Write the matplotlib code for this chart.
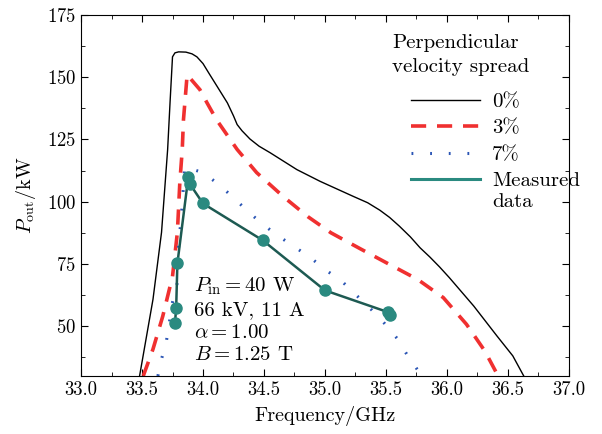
import matplotlib
matplotlib.use("Agg")
import matplotlib.pyplot as plt
from matplotlib.ticker import MultipleLocator
from matplotlib.lines import Line2D

plt.rcParams['font.family'] = ['cmr10', 'DejaVu Serif']
plt.rcParams['mathtext.fontset'] = 'cm'
plt.rcParams['axes.formatter.use_mathtext'] = True

# 0% spread (simulation)
black_f = [33.48, 33.59, 33.66, 33.71, 33.73, 33.75, 33.77, 33.80, 33.86, 33.91, 33.95, 34.0,
           34.05, 34.12, 34.2, 34.25, 34.28, 34.32, 34.385, 34.46, 34.55, 34.77, 34.96, 35.23,
           35.35, 35.45, 35.53, 35.61, 35.70, 35.78, 35.86, 35.94, 36.02, 36.22, 36.41, 36.54, 36.63]
black_p = [30, 60.8, 87.7, 120.9, 140, 158.2, 159.8, 160.2, 160.1, 159.4, 158.2, 155.5,
           151.5, 146, 139.7, 134.5, 131, 128.5, 125.2, 122.3, 119.7, 112.9, 108.2, 102.2,
           99.6, 96.6, 93.7, 90.2, 85.9, 81.5, 77.8, 73.8, 69.5, 58.1, 46.1, 38.1, 30]

# 3% spread
red_f = [33.51, 33.59, 33.67, 33.75, 33.79, 33.81, 33.83, 33.84, 33.87, 33.975, 34.03, 34.11,
         34.28, 34.44, 34.66, 34.86, 35.05, 35.29, 35.53, 35.76, 35.97, 36.16, 36.31, 36.42]
red_p = [30, 40.8, 54, 70, 87.7, 107.7, 121, 133, 151, 145, 140, 133,
         121, 111.7, 102, 94, 87.5, 81.1, 74.8, 68.8, 61.5, 50.8, 40.1, 30]

# 7% spread
blue_f = [33.63, 33.66, 33.70, 33.75, 33.79, 33.80, 33.83, 33.85, 34.0, 34.12, 34.24, 34.36,
          34.48, 34.61, 34.88, 35.0, 35.14, 35.25, 35.37, 35.48, 35.59, 35.67, 35.76, 35.78]
blue_p = [30, 36.8, 44, 59.6, 67.6, 82, 98.9, 114, 111.7, 107.3, 102.1, 96.5,
          91.3, 86.5, 77.6, 72.8, 68, 62.8, 57.2, 51.6, 45.2, 38.8, 32.4, 30]

# measured
meas_f = [33.77, 33.78, 33.79, 33.88, 33.89, 34.0, 34.49, 35.0, 35.52, 35.53]
meas_p = [51.2, 57.2, 75.2, 110.1, 107.3, 99.3, 84.5, 64.4, 55.6, 54.4]

labels = ['0%', '3%', '7%', 'Measured']

fig = plt.figure(figsize=(6.02, 4.34), dpi=100)
ax = fig.add_axes([0.1346, 0.1336, 0.8104, 0.8318])

ax.plot(black_f, black_p, color='black', lw=1.0)
ax.plot(red_f, red_p, color='#f03030', lw=2.6, ls=(0, (4.2, 3)))
ax.plot(blue_f, blue_p, color='#2a55b5', lw=2.2, ls=(0, (0.6, 5.5)))
ax.plot(meas_f, meas_p, color='#1d5a52', lw=1.8, marker='o', ms=8,
        mfc='#2a8a80', mec='#2a8a80')

ax.set_xlim(33.0, 37.0)
ax.set_ylim(30, 175)
ax.xaxis.set_major_locator(MultipleLocator(0.5))
ax.xaxis.set_minor_locator(MultipleLocator(0.25))
ax.yaxis.set_minor_locator(MultipleLocator(12.5))
ax.set_yticks([50, 75, 100, 125, 150, 175])
ax.xaxis.set_major_formatter(plt.FormatStrFormatter('%.1f'))
ax.tick_params(which='both', direction='in', top=True, right=True, labelsize=13.5)
ax.tick_params(which='major', length=5)
ax.tick_params(which='minor', length=3)

ax.set_xlabel('Frequency/GHz', fontsize=14.5, labelpad=5)
ax.set_ylabel(r'$P_{\rm out}$/kW', fontsize=14.5, labelpad=6)

ax.text(33.93, 70.5, "$P_{\\rm in} = 40$ W\n66 kV, 11 A\n$\\alpha = 1.00$\n$B = 1.25$ T",
        fontsize=15, va='top', ha='left', linespacing=1.33)

# legend title placed separately so the entries sit indented below it
ax.text(0.637, 0.948, 'Perpendicular\nvelocity spread', transform=ax.transAxes,
        fontsize=15, va='top', ha='left', linespacing=1.45)

handles = [Line2D([], [], color='black', lw=1.0),
           Line2D([], [], color='#f03030', lw=2.6, ls=(0, (4.2, 3))),
           Line2D([], [], color='#2a55b5', lw=2.2, ls=(0, (0.6, 5.5))),
           Line2D([], [], color='#2a8a80', lw=2.2)]
leg = ax.legend(handles, labels, loc='upper left', frameon=False, fontsize=15,
                bbox_to_anchor=(0.676, 0.785), borderaxespad=0, borderpad=0,
                handlelength=3.3, handletextpad=0.6, labelspacing=0.37)

fig.canvas.draw()
bb = leg.get_texts()[-1].get_window_extent()
x0, y0 = ax.transAxes.inverted().transform((bb.x0, bb.y0))
ax.text(x0, y0 - 0.008, 'data', transform=ax.transAxes, fontsize=15, va='top', ha='left')

fig.savefig('out.png', dpi=100)
